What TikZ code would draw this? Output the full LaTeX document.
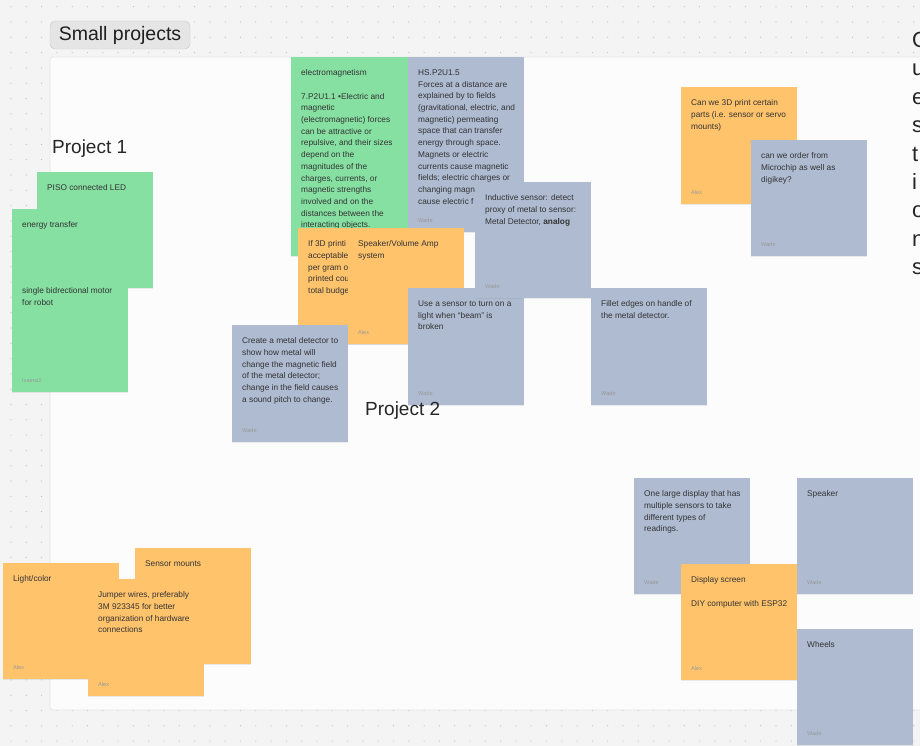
\documentclass[tikz,border=0pt]{standalone}
\usepackage{fontspec}
\setmainfont{Liberation Sans}
\usepackage{xcolor}
\usetikzlibrary{positioning,shadows}

\definecolor{canvasgray}{RGB}{244,244,244}
\definecolor{dotgray}{RGB}{190,190,190}
\definecolor{framewhite}{RGB}{252,252,252}
\definecolor{frameline}{RGB}{228,228,228}
\definecolor{pillfill}{RGB}{229,229,229}
\definecolor{pillline}{RGB}{200,200,200}
\definecolor{stickygreen}{RGB}{134,224,162}
\definecolor{stickyorange}{RGB}{255,195,108}
\definecolor{stickyblue}{RGB}{174,187,209}

\begin{document}
\begin{tikzpicture}[x=1pt,y=-1pt,
      sticky/.style={
         rectangle,
         inner sep=0pt,
         anchor=north west,
         minimum width=116pt,
         minimum height=116pt,
         drop shadow={shadow xshift=0pt,shadow yshift=-1.2pt,opacity=0.15}},
      green_note/.style={sticky, fill=stickygreen},
      orange_note/.style={sticky, fill=stickyorange},
      blue_note/.style={sticky, fill=stickyblue},
      note_text/.style={
         font=\fontsize{8.3}{11.7}\selectfont,
         align=left,
         inner sep=0pt,
         text=black!80},
      author_text/.style={
         font=\fontsize{5.6}{6.5}\selectfont,
         inner sep=0pt,
         text=black!40},
      project_lbl/.style={
         font=\fontsize{19}{22}\selectfont,
         inner sep=0pt,
         anchor=west,
         text=black!85},
      title_pill/.style={
         rectangle,
         rounded corners=5pt,
         draw=pillline,
         fill=pillfill,
         minimum width=140pt,
         minimum height=28pt,
         font=\fontsize{19.5}{22}\selectfont,
         text=black!88}
]
      \useasboundingbox (0,0) rectangle (920,746);
      \clip (0,0) rectangle (920,746);
      \fill[canvasgray] (0,0) rectangle (920,746);

      %dot grid of the canvas
      \foreach \i in {0,...,60}{
        \foreach \j in {0,...,48}{
          \fill[dotgray] ({11+15.3*\i},{6.7+15.3*\j}) circle (0.6pt);}}

      %section frame
      \draw[frameline, fill=framewhite, rounded corners=3pt, line width=0.6pt] (50,57) rectangle (960,710);
      \node[title_pill] (title) at (120,35) {Small projects};

      \node[anchor=north west, align=left, inner sep=0pt, font=\fontsize{22}{28.4}\selectfont, text=black!85]
        (questions) at (912,32) {Q\\u\\e\\s\\t\\i\\o\\n\\s};

      %project 1
      \node[project_lbl] (p1) at (52,149) {Project 1};

      \node[green_note] (piso) at (37,172) {};
      \node[note_text, below right=12.5pt and 10pt of piso.north west] (piso_txt) {PISO connected LED};

      \node[green_note, minimum height=183pt] (energy) at (12,209) {};
      \node[note_text, below right=12.5pt and 10pt of energy.north west] (energy_txt)
        {energy transfer\\[54.3pt]single bidrectional motor\\for robot};

      %project 2
      \node[green_note, minimum width=117pt, minimum height=199pt] (emag) at (291,57) {};
      \node[note_text, below right=12.5pt and 10pt of emag.north west] (emag_txt)
        {electromagnetism\\[11.7pt]7.P2U1.1 •Electric and\\magnetic\\(electromagnetic) forces\\can be attractive or\\repulsive, and their sizes\\depend on the\\magnitudes of the\\charges, currents, or\\magnetic strengths\\involved and on the\\distances between the\\interacting objects.};

      \node[blue_note, minimum height=175pt] (hs) at (408,57) {};
      \node[note_text, below right=12.5pt and 10pt of hs.north west] (hs_txt)
        {HS.P2U1.5\\Forces at a distance are\\explained by to fields\\(gravitational, electric, and\\magnetic) permeating\\space that can transfer\\energy through space.\\Magnets or electric\\currents cause magnetic\\fields; electric charges or\\changing magn\\cause electric f};

      \node[orange_note] (print_cost) at (298,228) {};
      \node[note_text, below right=12.5pt and 10pt of print_cost.north west] (print_cost_txt)
        {If 3D printi\\acceptable\\per gram o\\printed cou\\total budge};

      \node[orange_note] (spkamp) at (348,228) {};
      \node[note_text, below right=12.5pt and 10pt of spkamp.north west] (spkamp_txt) {Speaker/Volume Amp\\system};

      \node[blue_note, minimum height=117pt] (create) at (232,325) {};
      \node[note_text, below right=12.5pt and 10pt of create.north west] (create_txt)
        {Create a metal detector to\\show how metal will\\change the magnetic field\\of the metal detector;\\change in the field causes\\a sound pitch to change.};

      \node[blue_note, minimum height=117pt] (usesensor) at (408,288) {};
      \node[note_text, below right=12.5pt and 10pt of usesensor.north west] (usesensor_txt)
        {Use a sensor to turn on a\\light when “beam” is\\broken};

      \node[blue_note] (inductive) at (475,182) {};
      \node[note_text, below right=12.5pt and 10pt of inductive.north west] (inductive_txt)
        {Inductive sensor: detect\\proxy of metal to sensor:\\Metal Detector, \textbf{analog}};

      \node[blue_note, minimum height=117pt] (fillet) at (591,288) {};
      \node[note_text, below right=12.5pt and 10pt of fillet.north west] (fillet_txt)
        {Fillet edges on handle of\\the metal detector.};

      \node[project_lbl] (p2) at (365,411) {Project 2};

      %questions
      \node[orange_note, minimum height=117pt] (print3d) at (681,87) {};
      \node[note_text, below right=12.5pt and 10pt of print3d.north west] (print3d_txt)
        {Can we 3D print certain\\parts (i.e. sensor or servo\\mounts)};

      \node[blue_note] (order) at (751,140) {};
      \node[note_text, below right=12.5pt and 10pt of order.north west] (order_txt)
        {can we order from\\Microchip as well as\\digikey?};

      %bottom left
      \node[orange_note] (mounts) at (135,548) {};
      \node[note_text, below right=12.5pt and 10pt of mounts.north west] (mounts_txt) {Sensor mounts};

      \node[orange_note] (light) at (3,563) {};
      \node[note_text, below right=12.5pt and 10pt of light.north west] (light_txt) {Light/color};

      \node[orange_note, minimum height=117pt] (jumper) at (88,579) {};
      \node[note_text, below right=12.5pt and 10pt of jumper.north west] (jumper_txt)
        {Jumper wires, preferably\\3M 923345 for better\\organization of hardware\\connections};

      %bottom right
      \node[blue_note] (display) at (634,478) {};
      \node[note_text, below right=12.5pt and 10pt of display.north west] (display_txt)
        {One large display that has\\multiple sensors to take\\different types of\\readings.};

      \node[blue_note] (speaker) at (797,478) {};
      \node[note_text, below right=12.5pt and 10pt of speaker.north west] (speaker_txt) {Speaker};

      \node[orange_note] (screen) at (681,564) {};
      \node[note_text, below right=12.5pt and 10pt of screen.north west] (screen_txt)
        {Display screen\\[11.7pt]DIY computer with ESP32};

      \node[blue_note] (wheels) at (797,629) {};
      \node[note_text, below right=12.5pt and 10pt of wheels.north west] (wheels_txt) {Wheels};

    \foreach \n/\who in {% note/author
      energy/Isaenz2, hs/Wade, spkamp/Alex, create/Wade, usesensor/Wade,
      inductive/Wade, fillet/Wade, print3d/Alex, order/Wade, light/Alex,
      jumper/Alex, display/Wade, speaker/Wade, screen/Alex, wheels/Wade}
    \node[author_text, above right=10pt and 10pt of \n.south west] (\n_who) {\who};

\end{tikzpicture}
\end{document}
